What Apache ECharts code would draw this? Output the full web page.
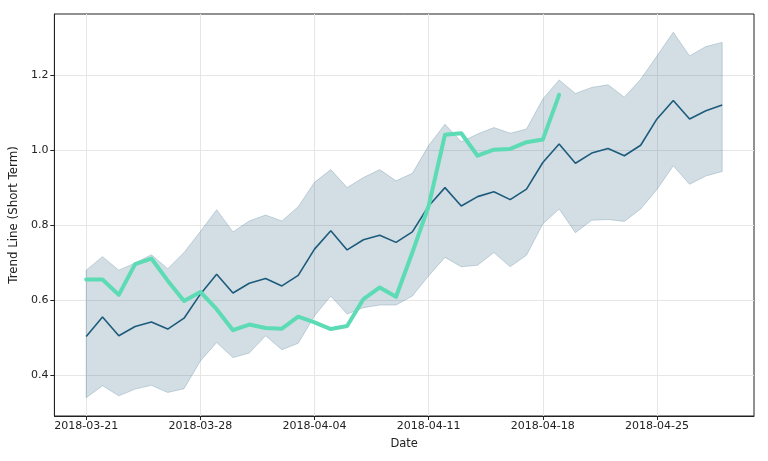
<!DOCTYPE html>
<html>
<head>
<meta charset="utf-8">
<script src="https://cdn.jsdelivr.net/npm/echarts@6/dist/echarts.min.js"></script>
<style>html,body{margin:0;padding:0;background:#fff}#c{width:768px;height:461px}</style>
</head>
<body>
<div id="c"></div>
<script>
var startDate = '2018-03-21';
var dayCount = 40;
var dates = [];
(function(){ var t0 = Date.parse(startDate); for (var i = 0; i < dayCount; i++) { dates.push(new Date(t0 + i*86400000).toISOString().slice(0,10)); } })();

var trend = [0.503,0.555,0.505,0.530,0.542,0.523,0.552,0.616,0.669,0.619,
             0.645,0.658,0.638,0.666,0.736,0.785,0.734,0.761,0.773,0.754,
             0.782,0.851,0.900,0.851,0.876,0.889,0.868,0.896,0.967,1.016,
             0.965,0.992,1.004,0.985,1.013,1.083,1.132,1.083,1.105,1.120];
var upper = [0.680,0.716,0.680,0.699,0.721,0.684,0.727,0.783,0.841,0.782,
             0.811,0.827,0.811,0.849,0.914,0.948,0.900,0.927,0.948,0.918,
             0.938,1.012,1.069,1.022,1.043,1.060,1.045,1.056,1.136,1.187,
             1.151,1.167,1.174,1.141,1.189,1.251,1.314,1.251,1.276,1.287];
var lower = [0.340,0.372,0.345,0.363,0.373,0.354,0.364,0.438,0.487,0.447,
             0.459,0.505,0.468,0.485,0.558,0.611,0.563,0.580,0.587,0.587,
             0.611,0.665,0.714,0.689,0.693,0.727,0.689,0.720,0.803,0.843,
             0.780,0.813,0.815,0.810,0.843,0.895,0.958,0.909,0.931,0.943];
var actual = [0.655,0.655,0.614,0.696,0.711,0.652,0.598,0.622,0.576,0.520,
              0.535,0.526,0.524,0.556,0.541,0.523,0.531,0.603,0.634,0.609,
              0.727,0.851,1.041,1.045,0.985,1.001,1.003,1.021,1.028,1.147];
var xTickLabels = ['2018-03-21','2018-03-28','2018-04-04','2018-04-11','2018-04-18','2018-04-25'];
var yTicks = [0.4,0.6,0.8,1.0,1.2];

var t0 = Date.parse(startDate);
function dayOf(s){ return Math.round((Date.parse(s) - t0)/86400000); }
var xs = dates.map(dayOf);
var xTickVals = xTickLabels.map(dayOf);
var labelMap = {}; xTickLabels.forEach(function(l){ labelMap[dayOf(l)] = l; });

function pairs(arr){ return arr.map(function(v,i){ return [xs[i], v]; }); }
var bandData = lower.map(function(l,i){ return [xs[i], l, upper[i]]; });

var lastX = xs[xs.length-1];
var allVals = upper.concat(lower, trend, actual);
var yMinD = Math.min.apply(null, allVals), yMaxD = Math.max.apply(null, allVals);
var yPad = (yMaxD - yMinD)*0.05, xPad = lastX*0.05;

function renderBand(params, api){
  if (params.dataIndex !== 0) return null;
  var top = [], bot = [];
  for (var i = 0; i < bandData.length; i++) {
    top.push(api.coord([bandData[i][0], bandData[i][2]]));
    bot.push(api.coord([bandData[i][0], bandData[i][1]]));
  }
  var pts = top.concat(bot.reverse());
  return {
    type: 'polygon',
    shape: {points: pts},
    style: {fill: 'rgba(31,90,122,0.2)', stroke: 'rgba(31,90,122,0.22)', lineWidth: 1}
  };
}

var font = 'DejaVu Sans';
var chart = echarts.init(document.getElementById('c'), null, {renderer:'canvas'});
chart.setOption({
  animation: false,
  backgroundColor: '#fff',
  grid: {left: 50, right: 14, top: 14, bottom: 45, show: true, borderColor: '#222', borderWidth: 1, containLabel: false},
  xAxis: {
    type: 'value', min: -xPad, max: lastX + xPad,
    name: 'Date', nameLocation: 'middle', nameGap: 22,
    nameTextStyle: {fontFamily: font, fontSize: 11.5, color: '#222'},
    axisLine: {show: true, onZero: false, lineStyle: {color: '#222', width: 1}},
    axisTick: {show: true, customValues: xTickVals, length: 4, lineStyle: {color: '#222'}},
    axisLabel: {customValues: xTickVals, formatter: function(v){ return labelMap[Math.round(v)] || ''; }, fontFamily: font, fontSize: 11, color: '#222', margin: 5},
    splitLine: {show: true, lineStyle: {color: '#e6e6e6', width: 1}}
  },
  yAxis: {
    type: 'value', min: yMinD - yPad, max: yMaxD + yPad,
    name: 'Trend Line (Short Term)', nameLocation: 'middle', nameGap: 29, nameRotate: 90,
    nameTextStyle: {fontFamily: font, fontSize: 11.8, color: '#222'},
    axisLine: {show: true, onZero: false, lineStyle: {color: '#222', width: 1}},
    axisTick: {show: true, customValues: yTicks, length: 4, lineStyle: {color: '#222'}},
    axisLabel: {customValues: yTicks, formatter: function(v){ return v.toFixed(1); }, fontFamily: font, fontSize: 11, color: '#222', margin: 6},
    splitLine: {show: true, lineStyle: {color: '#e6e6e6', width: 1}}
  },
  series: [
    {type: 'custom', data: bandData, renderItem: renderBand, silent: true, z: 1,
     encode: {x: 0, y: [1, 2]}},
    {type: 'line', data: pairs(trend), symbol: 'none',
     lineStyle: {color: '#1c5b7c', width: 1.6}, z: 3},
    {type: 'line', data: pairs(actual), symbol: 'none',
     lineStyle: {color: '#5cdbb4', width: 4, cap: 'round', join: 'round'}, z: 4}
  ]
});
</script>
</body>
</html>
